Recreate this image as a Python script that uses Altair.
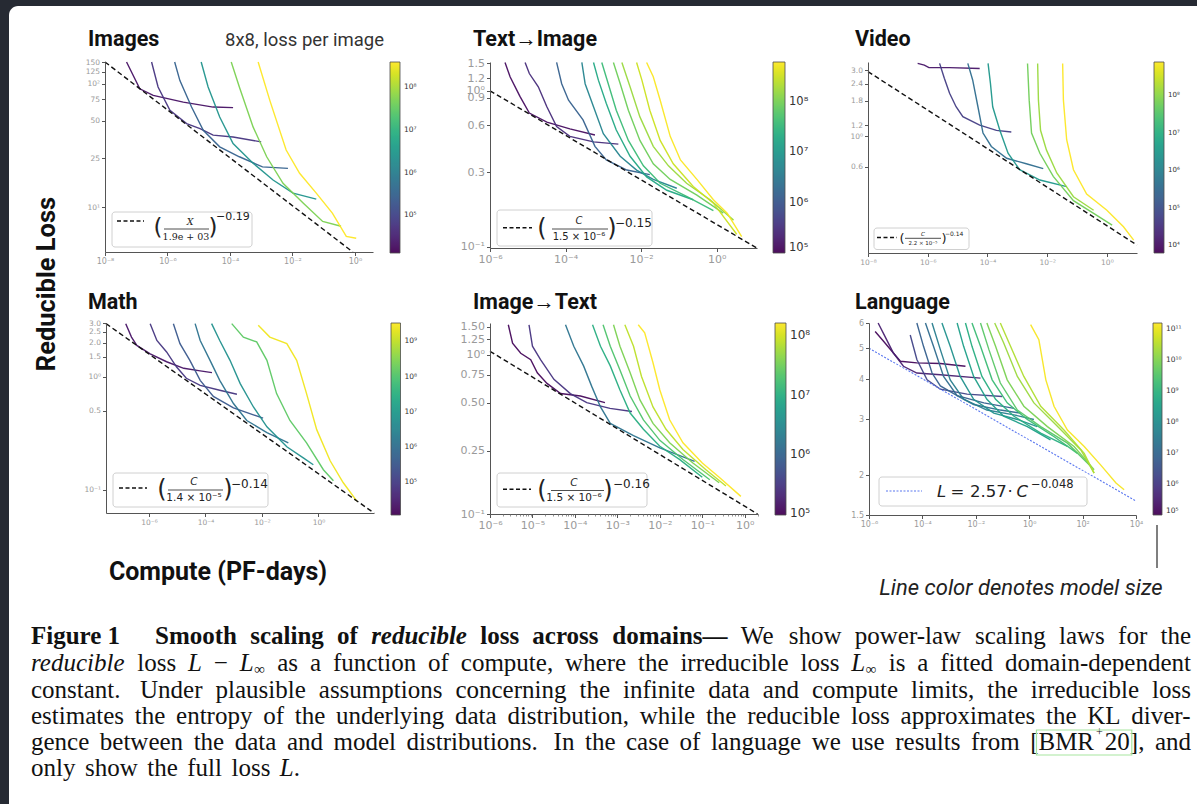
import math
import altair as alt
import pandas as pd

W, H = 1197, 804

# ---------------- data ----------------
# Images (8x8, loss per image)
images_sizes = [2e4, 6e4, 3e5, 2.5e6, 5e7, 3.9e8]
images_compute = [
    [4.9e-8, 1.3e-7, 3.5e-7, 3.2e-6, 2.9e-5, 1.26e-4],
    [3.1e-7, 5e-7, 1.2e-6, 4.1e-6, 1.1e-5, 2.9e-5, 1.26e-4, 1e-3],
    [1.7e-6, 2.5e-6, 5.9e-6, 1.4e-5, 4.7e-5, 2e-4, 1.1e-3, 7.2e-3],
    [1.2e-5, 2e-5, 4.7e-5, 1.26e-4, 5.5e-4, 2.4e-3, 1.05e-2, 5.8e-2],
    [1.1e-4, 2e-4, 5.5e-4, 1.5e-3, 5e-3, 2.2e-2, 9.3e-2, 0.36],
    [8e-4, 1.9e-3, 6.3e-3, 1.7e-2, 5.8e-2, 0.19, 0.53, 1.1],
]
images_loss = [
    [150, 91, 80.5, 71, 64.7, 64],
    [150, 94, 61, 47.5, 43.3, 38.3, 37, 33.8],
    [150, 106, 64.7, 42, 30.8, 25.6, 21.2, 20.6],
    [150, 94, 53.8, 32.8, 22.7, 16.6, 13, 11.6],
    [150, 94, 44.7, 25.6, 15.6, 10.8, 7.66, 7.0],
    [150, 73, 29, 18.8, 13, 8.95, 5.8, 5.6],
]
images_fit_compute = [1e-8, 0.86]
images_fit_loss = [150, 4.33]

# Text -> Image
textimg_sizes = [1.3e5, 2.9e5, 1.4e6, 5e6, 1.9e7, 3.8e7, 9e7, 1.7e8, 3.2e8, 6e8]
textimg_compute = [
    [2.5e-6, 3.4e-6, 6.2e-6, 1.1e-5, 3.2e-5, 1.3e-4, 6e-4],
    [8.5e-6, 1.1e-5, 1.9e-5, 3.2e-5, 5.8e-5, 1.3e-4, 5.5e-4, 2.5e-3],
    [5.8e-5, 7.9e-5, 1.2e-4, 2.9e-4, 6e-4, 1.2e-3, 4.2e-3, 1.7e-2],
    [2.7e-4, 3.3e-4, 5.5e-4, 1e-3, 2.8e-3, 7.6e-3, 2.1e-2, 8.8e-2],
    [5.5e-4, 7.4e-4, 1.2e-3, 2.2e-3, 5.1e-3, 1.4e-2, 4.8e-2, 0.24],
    [9.1e-4, 1.35e-3, 2.2e-3, 4.6e-3, 1.15e-2, 3.2e-2, 0.16, 0.82],
    [1.85e-3, 2.8e-3, 4.6e-3, 9.3e-3, 2.1e-2, 5.9e-2, 0.3, 1.5],
    [3.1e-3, 5.1e-3, 9.3e-3, 2.1e-2, 5.3e-2, 0.16, 0.67, 2.8],
    [7.6e-3, 1.05e-2, 1.7e-2, 3.2e-2, 7.1e-2, 0.24, 0.82, 3.4],
    [1.4e-2, 2.1e-2, 3.2e-2, 5.9e-2, 0.11, 0.3, 0.82, 1.9, 4.6],
]
textimg_loss = [
    [1.52, 1.23, 0.92, 0.72, 0.63, 0.57, 0.52],
    [1.52, 1.29, 1.06, 0.79, 0.59, 0.51, 0.47, 0.455],
    [1.52, 1.11, 0.87, 0.65, 0.44, 0.36, 0.31, 0.29],
    [1.52, 1.11, 0.79, 0.53, 0.38, 0.31, 0.27, 0.237],
    [1.52, 1.17, 0.83, 0.56, 0.38, 0.28, 0.23, 0.2],
    [1.52, 1.11, 0.75, 0.48, 0.33, 0.255, 0.21, 0.17],
    [1.52, 1.11, 0.75, 0.48, 0.34, 0.27, 0.214, 0.164],
    [1.52, 1.06, 0.68, 0.44, 0.33, 0.255, 0.2, 0.148],
    [1.52, 1.17, 0.75, 0.48, 0.34, 0.243, 0.19, 0.12],
    [1.52, 1.23, 0.87, 0.51, 0.36, 0.27, 0.2, 0.164, 0.116],
]
textimg_fit_compute = [1e-6, 11.5]
textimg_fit_loss = [1.0, 0.098]

# Video
video_sizes = [1.2e4, 5e4, 4e5, 3e6, 6e7, 1.3e8, 7.5e8]
video_compute = [
    [4.6e-7, 7.7e-7, 1.1e-6, 5.4e-6, 5.5e-5],
    [2.5e-6, 3.6e-6, 5.4e-6, 8.9e-6, 1.5e-5, 5.5e-5, 2e-4, 6.3e-4],
    [2.2e-5, 3.2e-5, 4.8e-5, 7.1e-5, 1.35e-4, 4.4e-4, 2e-3, 7.4e-3],
    [1.05e-4, 1.26e-4, 1.5e-4, 2.6e-4, 4.9e-4, 1.2e-3, 5.7e-3, 4.5e-2],
    [2.2e-3, 2.5e-3, 3e-3, 5.7e-3, 1.6e-2, 7.6e-2, 0.36, 1.5],
    [4.8e-3, 5.1e-3, 6e-3, 9.5e-3, 2.1e-2, 7.6e-2, 0.36],
    [3.3e-2, 3.5e-2, 4.5e-2, 7.6e-2, 0.21, 1.0, 3.6, 7.9],
]
video_loss = [
    [3.36, 3.27, 3.13, 3.13, 3.09],
    [3.36, 2.62, 2.04, 1.63, 1.38, 1.2, 1.1, 1.07],
    [3.36, 2.55, 1.63, 1.05, 0.84, 0.69, 0.63, 0.58],
    [3.36, 2.41, 1.63, 1.1, 0.75, 0.57, 0.48, 0.43],
    [3.36, 1.82, 1.05, 0.75, 0.51, 0.34, 0.275, 0.226],
    [3.36, 1.82, 1.1, 0.79, 0.54, 0.363, 0.29],
    [3.36, 1.82, 0.94, 0.57, 0.38, 0.29, 0.22, 0.176],
]
video_fit_compute = [1e-8, 10.2]
video_fit_loss = [2.93, 0.162]

# Math
math_sizes = [2.2e4, 8e4, 3.5e5, 1.3e6, 6e6, 1.4e8, 2.5e9]
math_compute = [
    [1.5e-7, 2.4e-7, 3.7e-7, 1.1e-6, 4.2e-6, 1.7e-5, 6.5e-5, 1.7e-4],
    [1.1e-6, 1.9e-6, 4.2e-6, 9.5e-6, 2.1e-5, 6.5e-5, 3.2e-4, 1.3e-3],
    [7.3e-6, 1.25e-5, 2.8e-5, 6.5e-5, 1.9e-4, 9.8e-4, 5e-3, 1.1e-2],
    [4.3e-5, 6.5e-5, 1.45e-4, 3.2e-4, 9.8e-4, 2.9e-3, 1.5e-2, 8.6e-2],
    [1.65e-4, 3.2e-4, 7.4e-4, 1.7e-3, 5e-3, 1.5e-2, 7.6e-2, 0.3, 0.66],
    [8.5e-4, 2.2e-3, 6.5e-3, 1.5e-2, 3.3e-2, 9.8e-2, 0.38, 1.5, 3.4],
    [7.4e-3, 1.9e-2, 7.6e-2, 0.17, 0.38, 0.87, 2.6, 7.6, 23],
]
math_loss = [
    [2.96, 2.25, 1.9, 1.6, 1.36, 1.19, 1.13, 1.09],
    [2.96, 2.1, 1.66, 1.22, 0.97, 0.84, 0.76, 0.7],
    [2.96, 1.97, 1.4, 0.93, 0.67, 0.53, 0.46, 0.43],
    [2.96, 2.1, 1.4, 0.93, 0.58, 0.41, 0.32, 0.26],
    [2.96, 2.1, 1.4, 0.87, 0.54, 0.36, 0.24, 0.19, 0.166],
    [2.96, 2.25, 2.04, 1.4, 0.71, 0.41, 0.26, 0.15, 0.12],
    [2.86, 2.25, 1.97, 1.4, 0.71, 0.34, 0.18, 0.115, 0.079],
]
math_fit_compute = [3e-8, 93]
math_fit_loss = [2.96, 0.062]

# Image -> Text
imgtext_sizes = [1.07e5, 2.8e5, 1.6e6, 9.4e6, 2e7, 3.6e7, 7.6e7, 1.6e8]
imgtext_compute = [
    [2.7e-6, 3.4e-6, 5.3e-6, 9.1e-6, 1.3e-5, 2.2e-5, 4.6e-5, 1.35e-4, 5.1e-4],
    [8.3e-6, 1e-5, 1.55e-5, 3.2e-5, 7.8e-5, 1.9e-4, 6.7e-4, 2.2e-3],
    [6e-5, 9.4e-5, 1.6e-4, 2.5e-4, 4e-4, 6.8e-4, 2.4e-3, 1e-2, 6.6e-2],
    [2.6e-4, 4e-4, 6.8e-4, 1.15e-3, 2e-3, 4.1e-3, 1e-2, 2.9e-2, 0.1],
    [4.6e-4, 6.8e-4, 1.15e-3, 2e-3, 4.1e-3, 1e-2, 3.5e-2, 0.15],
    [8.1e-4, 1.15e-3, 2e-3, 3.4e-3, 6.9e-3, 1.7e-2, 6e-2, 0.25],
    [1.5e-3, 2.4e-3, 3.7e-3, 6.9e-3, 1.4e-2, 3.5e-2, 0.12, 0.36],
    [3.1e-3, 4.4e-3, 6.9e-3, 1e-2, 1.7e-2, 3.5e-2, 0.1, 0.25, 0.81],
]
imgtext_loss = [
    [1.54, 1.18, 1.02, 0.93, 0.77, 0.66, 0.57, 0.55, 0.5],
    [1.54, 1.13, 0.93, 0.7, 0.57, 0.5, 0.46, 0.44],
    [1.54, 1.13, 0.85, 0.63, 0.47, 0.37, 0.31, 0.26, 0.214],
    [1.54, 1.13, 0.85, 0.6, 0.43, 0.34, 0.266, 0.22, 0.17],
    [1.54, 1.13, 0.8, 0.55, 0.39, 0.29, 0.22, 0.164],
    [1.54, 1.13, 0.77, 0.52, 0.37, 0.28, 0.209, 0.157],
    [1.54, 1.13, 0.73, 0.47, 0.34, 0.254, 0.19, 0.15],
    [1.54, 1.37, 0.89, 0.6, 0.39, 0.28, 0.209, 0.17, 0.129],
]
imgtext_fit_compute = [1e-6, 2.0]
imgtext_fit_loss = [1.05, 0.1]

# Language (full loss)
lang_sizes = [1.3e5, 3.2e5, 1.7e6, 7e6, 1.5e7, 4e7, 1.25e8, 3e8, 7e8,
              1.7e9, 3.9e9, 9e9, 1.9e10, 2.9e10, 1.4e11]
lang_compute = [
    [1.7e-6, 3.5e-6, 8.2e-6, 1.5e-5, 6.2e-5, 4.7e-4, 4.1e-3],
    [2.2e-6, 4e-6, 8.2e-6, 1.95e-5, 6.2e-5, 4.7e-4, 1.5e-2],
    [3.5e-5, 6.2e-5, 1.5e-4, 4.7e-4, 4.7e-3, 9.8e-2],
    [6.2e-5, 1.1e-4, 2.3e-4, 4.7e-4, 2e-3, 2e-2, 0.27],
    [1.3e-4, 2.6e-4, 6.2e-4, 2e-3, 8.3e-3, 8.3e-2, 0.48],
    [2.3e-4, 4.7e-4, 1.1e-3, 3.5e-3, 2.6e-2, 0.27, 1.5],
    [5.4e-4, 1.1e-3, 2.6e-3, 8.3e-3, 4.7e-2, 0.36, 2.0],
    [2e-3, 3.5e-3, 8.3e-3, 2.6e-2, 0.11, 0.85, 6.3],
    [4.1e-3, 7.2e-3, 1.7e-2, 5.5e-2, 0.27, 2.7, 27],
    [7.2e-3, 1.5e-2, 4.1e-2, 0.15, 0.85, 8.6, 64],
    [1.5e-2, 3.1e-2, 8.3e-2, 0.36, 2.7, 27, 205],
    [2.6e-2, 5.5e-2, 0.15, 0.63, 4.8, 48, 270],
    [5.1e-2, 0.11, 0.36, 1.5, 11.6, 86, 270],
    [8.3e-2, 0.2, 0.63, 2.7, 20, 115, 270],
    [1.13, 2.3, 4.2, 8.5, 27, 115, 480, 1780, 3600],
]
lang_loss = [
    [5.64, 5.26, 4.83, 4.55, 4.5, 4.48, 4.39],
    [6.0, 5.44, 4.83, 4.39, 4.18, 4.13, 4.03],
    [5.5, 4.61, 3.98, 3.72, 3.59, 3.53],
    [6.0, 5.07, 4.18, 3.81, 3.55, 3.37, 3.24],
    [6.0, 5.07, 4.08, 3.55, 3.33, 3.2, 3.13],
    [6.0, 4.95, 3.98, 3.46, 3.2, 3.09, 2.99],
    [6.0, 5.07, 4.08, 3.46, 3.13, 2.99, 2.84],
    [6.0, 5.07, 4.08, 3.46, 3.06, 2.84, 2.58],
    [6.0, 5.07, 4.08, 3.46, 3.06, 2.71, 2.46],
    [6.0, 5.07, 3.98, 3.37, 2.99, 2.64, 2.34],
    [6.0, 4.95, 3.89, 3.2, 2.84, 2.52, 2.13],
    [6.0, 5.07, 3.98, 3.29, 2.84, 2.46, 2.08],
    [6.0, 5.2, 4.08, 3.37, 2.84, 2.4, 2.03],
    [6.0, 5.07, 4.08, 3.29, 2.77, 2.34, 2.03],
    [5.93, 5.32, 3.98, 3.29, 2.77, 2.46, 2.15, 1.89, 1.8],
]
lang_fit_compute = [1e-6, 1e4]
lang_fit_loss = [5.0, 1.66]

# ---------------- helpers ----------------
SUP = str.maketrans("-0123456789", "\u207b\u2070\u00b9\u00b2\u00b3\u2074\u2075\u2076\u2077\u2078\u2079")


def pow10(v):
    return "10" + str(int(round(math.log10(v)))).translate(SUP)


def label_expr(values, labels):
    expr = "''"
    for v, lab in reversed(list(zip(values, labels))):
        expr = f"abs(datum.value / {v!r} - 1) < 1e-6 ? '{lab}' : ({expr})"
    return expr


ONE = alt.Data(values=[{}])


def txt(s, x, y, size, align="left", font="Roboto", weight="normal", style="normal",
        color="#111111", angle=0, baseline="middle"):
    kw = dict(text=s, align=align, baseline=baseline, font=font, fontSize=size,
              fontWeight=weight, fontStyle=style, color=color)
    if angle:
        kw["angle"] = angle
    return alt.Chart(ONE).mark_text(**kw).encode(x=alt.value(x), y=alt.value(y))


def rect(x1, y1, x2, y2, fill="white", stroke=None, sw=1.0, r=0, fill_opacity=1.0):
    kw = dict(fill=fill, fillOpacity=fill_opacity, cornerRadius=r)
    if stroke:
        kw["stroke"] = stroke
        kw["strokeWidth"] = sw
    return alt.Chart(ONE).mark_rect(**kw).encode(
        x=alt.value(x1), x2=alt.value(x2), y=alt.value(y1), y2=alt.value(y2))


def rule(x1, y1, x2, y2, color="#000000", sw=1.0, dash=None):
    kw = dict(color=color, strokeWidth=sw)
    if dash:
        kw["strokeDash"] = dash
    return alt.Chart(ONE).mark_rule(**kw).encode(
        x=alt.value(x1), x2=alt.value(x2), y=alt.value(y1), y2=alt.value(y2))


AX = dict(title=None, grid=False, domainColor="#555555", domainWidth=1, tickColor="#555555",
          tickSize=3.5, tickWidth=1, labelColor="#9a9a9a", labelFont="DejaVu Sans",
          labelFlush=False, labelOverlap=False, labelPadding=2, zindex=1)

panels = [
    dict(key="images", title="Images", txy=(88, 40),
         xrng=[105, 373], yrng=[252, 62], xdom=[1e-8, 3.8], ydom=[4.33, 150],
         xt=[1e-8, 1e-6, 1e-4, 1e-2, 1],
         yt=[10, 25, 50, 75, 100, 125, 150], ytl=["10\u00b9", "25", "50", "75", "10\u00b2", "125", "150"],
         xfs=8, yfs=7.5, cdom=[1.3e4, 3.9e8], cvals=[1e5, 1e6, 1e7, 1e8],
         cb=(390, 62, 191, 10), cfs=7.5),
    dict(key="textimg", title="Text\u2192Image", txy=(473, 40),
         xrng=[490, 757], yrng=[248, 62], xdom=[1e-6, 11.7], ydom=[0.098, 1.53],
         xt=[1e-6, 1e-4, 1e-2, 1],
         yt=[0.1, 0.3, 0.6, 0.9, 1.0, 1.2, 1.5], ytl=["10\u207b\u00b9", "0.3", "0.6", "0.9", "10\u2070", "1.2", "1.5"],
         xfs=11, yfs=11, cdom=[1e5, 6.3e8], cvals=[1e5, 1e6, 1e7, 1e8],
         cb=(773, 62, 191, 12), cfs=11.5),
    dict(key="video", title="Video", txy=(855, 40),
         xrng=[868, 1137], yrng=[253, 62], xdom=[1e-8, 10.2], ydom=[0.142, 3.44],
         xt=[1e-8, 1e-6, 1e-4, 1e-2, 1],
         yt=[0.6, 1.0, 1.2, 1.8, 2.4, 3.0], ytl=["0.6", "10\u2070", "1.2", "1.8", "2.4", "3.0"],
         xfs=7.5, yfs=7.5, cdom=[6.3e3, 7.6e8], cvals=[1e4, 1e5, 1e6, 1e7, 1e8],
         cb=(1154, 62, 191, 10), cfs=7),
    dict(key="math", title="Math", txy=(88, 303),
         xrng=[106, 374], yrng=[513, 323], xdom=[3e-8, 93], ydom=[0.062, 3.0],
         xt=[1e-6, 1e-4, 1e-2, 1],
         yt=[0.1, 0.5, 1.0, 1.5, 2.0, 2.5, 3.0], ytl=["10\u207b\u00b9", "0.5", "10\u2070", "1.5", "2.0", "2.5", "3.0"],
         xfs=7.5, yfs=7.5, cdom=[1.2e4, 3.3e9], cvals=[1e5, 1e6, 1e7, 1e8, 1e9],
         cb=(391, 323, 192, 9.5), cfs=7.5),
    dict(key="imgtext", title="Image\u2192Text", txy=(473, 303),
         xrng=[490, 758], yrng=[514, 323], xdom=[1e-6, 2.05], ydom=[0.1, 1.58],
         xt=[1e-6, 1e-5, 1e-4, 1e-3, 1e-2, 1e-1, 1], minor=True,
         yt=[0.1, 0.25, 0.5, 0.75, 1.0, 1.25, 1.5], ytl=["10\u207b\u00b9", "0.25", "0.50", "0.75", "10\u2070", "1.25", "1.50"],
         xfs=11, yfs=11, cdom=[9.4e4, 1.6e8], cvals=[1e5, 1e6, 1e7, 1e8],
         cb=(775, 323, 192, 11), cfs=12),
    dict(key="lang", title="Language", txy=(855, 303),
         xrng=[869, 1136], yrng=[515, 323], xdom=[1e-6, 1e4], ydom=[1.5, 6],
         xt=[1e-6, 1e-4, 1e-2, 1, 1e2, 1e4],
         yt=[1.5, 2, 3, 4, 5, 6], ytl=["1.5", "2", "3", "4", "5", "6"],
         xfs=8, yfs=8, cdom=[1e5, 1.6e11], cvals=[1e5, 1e6, 1e7, 1e8, 1e9, 1e10, 1e11],
         cb=(1153, 323, 192, 9), cfs=7.5),
]

DATA = {
    "images": (images_sizes, images_compute, images_loss, images_fit_compute, images_fit_loss),
    "textimg": (textimg_sizes, textimg_compute, textimg_loss, textimg_fit_compute, textimg_fit_loss),
    "video": (video_sizes, video_compute, video_loss, video_fit_compute, video_fit_loss),
    "math": (math_sizes, math_compute, math_loss, math_fit_compute, math_fit_loss),
    "imgtext": (imgtext_sizes, imgtext_compute, imgtext_loss, imgtext_fit_compute, imgtext_fit_loss),
    "lang": (lang_sizes, lang_compute, lang_loss, lang_fit_compute, lang_fit_loss),
}


def panel_layers(p):
    sizes, compute, loss, fit_c, fit_l = DATA[p["key"]]
    rows = []
    for i, (s, cs, ls) in enumerate(zip(sizes, compute, loss)):
        for c, l in zip(cs, ls):
            rows.append({"series": i, "size": s, "compute": c, "loss": l})
    df = pd.DataFrame(rows)
    xs = alt.Scale(type="log", domain=p["xdom"], range=p["xrng"])
    ys = alt.Scale(type="log", domain=p["ydom"], range=p["yrng"])
    xaxis = alt.Axis(orient="bottom", offset=p["yrng"][0] - H, values=p["xt"],
                     labelExpr=label_expr(p["xt"], [pow10(v) for v in p["xt"]]),
                     labelFontSize=p["xfs"], **AX)
    yaxis = alt.Axis(orient="left", offset=-p["xrng"][0], values=p["yt"],
                     labelExpr=label_expr(p["yt"], p["ytl"]),
                     labelFontSize=p["yfs"], **AX)
    cbx, cby, cblen, cbth = p["cb"]
    leg = alt.Legend(orient="none", legendX=cbx, legendY=cby, direction="vertical",
                     gradientLength=cblen, gradientThickness=cbth, title=None,
                     values=p["cvals"], labelExpr=label_expr(p["cvals"], [pow10(v) for v in p["cvals"]]),
                     labelFontSize=p["cfs"], labelColor="#333333", labelFont="DejaVu Sans",
                     gradientStrokeColor="#444444", gradientStrokeWidth=0.8,
                     labelOverlap=False, padding=0, labelOffset=4)
    lines = alt.Chart(df).mark_line(strokeWidth=1.4, opacity=0.95).encode(
        x=alt.X("compute:Q", scale=xs, axis=xaxis),
        y=alt.Y("loss:Q", scale=ys, axis=yaxis),
        color=alt.Color("size:Q", scale=alt.Scale(type="log", scheme="viridis", domain=p["cdom"]),
                        legend=leg),
        detail="series:N",
    )
    if p["key"] == "lang":
        fit_mark = dict(color="#5b78f0", strokeDash=[2, 1.5], strokeWidth=1.1)
    else:
        fit_mark = dict(color="#111111", strokeDash=[5, 3], strokeWidth=1.4)
    if p.get("minor"):
        lo, hi = p["xdom"]
        minor_vals = [k * 10.0 ** e for e in range(int(math.floor(math.log10(lo))), int(math.ceil(math.log10(hi))) + 1)
                      for k in range(2, 10) if lo <= k * 10.0 ** e <= hi]
        fit_xaxis = alt.Axis(orient="bottom", offset=p["yrng"][0] - H, values=minor_vals, labels=False,
                             domain=False, grid=False, title=None, tickSize=2, tickWidth=0.8,
                             tickColor="#777777", zindex=1)
    else:
        fit_xaxis = None
    fit = alt.Chart(pd.DataFrame({"compute": fit_c, "loss": fit_l})).mark_line(**fit_mark).encode(
        x=alt.X("compute:Q", scale=xs, axis=fit_xaxis),
        y=alt.Y("loss:Q", scale=ys, axis=None),
    )
    tx, ty = p["txy"]
    return [lines, fit, txt(p["title"], tx, ty, 21.5, weight="bold", color="#111111")]


def fit_legend(box, dash, lp, rp, pyc, pfs, num, numxy, bar, den, denxy, ffs, exp, expxy, efs,
               font="DejaVu Sans"):
    L = [rect(*box, fill="white", stroke="#d0d0d0", sw=1, r=3, fill_opacity=0.9),
         rule(dash[0], dash[2], dash[1], dash[2], color="#111111", sw=1.4, dash=[4, 2.5]),
         txt("(", lp, pyc, pfs, align="center", font="DejaVu Sans", weight="normal", color="#222222"),
         txt(")", rp, pyc, pfs, align="center", font="DejaVu Sans", weight="normal", color="#222222"),
         txt(num, numxy[0], numxy[1], ffs, align="center", font=font, style="italic", color="#222222"),
         rule(bar[0], bar[2], bar[1], bar[2], color="#222222", sw=0.8),
         txt(den, denxy[0], denxy[1], ffs, align="center", font=font, color="#222222"),
         txt(exp, expxy[0], expxy[1], efs, align="left", font="DejaVu Sans", color="#222222")]
    return L


layers = []
# white card over the dark frame
layers.append(rect(9, 6, W + 20, H + 20, fill="white", r=9))

for p in panels:
    layers += panel_layers(p)

# fit legends
layers += fit_legend((112, 212, 252, 247), (117, 144, 221), 158, 213, 228, 23, "X", (190, 221.5),
                     (164, 209, 229), "1.9e + 03", (186, 236.5), 9.5, "\u22120.19", (216, 216.5), 11,
                     font="DejaVu Serif")
layers += fit_legend((497, 210, 652, 246), (503, 532, 227.7), 542, 612, 229, 24, "C", (579, 221),
                     (552, 608, 229), "1.5 \u00d7 10\u207b\u2076", (579, 237), 10, "\u22120.15", (615, 222.5), 12)
layers += fit_legend((874, 228, 969, 249.5), (877, 897, 237.5), 902, 944, 238.5, 13, "C", (923, 234.3),
                     (905, 941, 238.3), "2.2 \u00d7 10\u207b\u2075", (923, 242.5), 5.5, "\u22120.14", (945, 234), 6)
layers += fit_legend((113, 473, 268, 507), (119, 147, 488), 162, 228, 490, 24, "C", (194, 482),
                     (168, 223, 490), "1.4 \u00d7 10\u207b\u2075", (194, 497.5), 10.5, "\u22120.14", (231, 483.5), 12)
layers += fit_legend((497, 473, 647, 507), (503, 531, 489.3), 542, 608, 490.7, 24, "C", (574, 482.5),
                     (551, 604, 490.5), "1.5 \u00d7 10\u207b\u2076", (574, 497.5), 10.5, "\u22120.16", (613, 484), 12)
# language legend
layers += [
    rect(879, 477, 1087, 506, fill="white", stroke="#d0d0d0", sw=1, r=3, fill_opacity=0.9),
    rule(886, 491, 922, 491, color="#5b78f0", sw=1.1, dash=[2, 1.5]),
    txt("L", 937, 492, 16.5, font="DejaVu Sans", style="italic", color="#222222"),
    txt("=", 957.5, 492, 16.5, align="center", font="DejaVu Sans", color="#222222"),
    txt("2.57", 970, 492, 16.5, font="DejaVu Sans", color="#222222"),
    txt("\u00b7", 1010, 492, 16.5, align="center", font="DejaVu Sans", color="#222222"),
    txt("C", 1016.5, 492, 16.5, font="DejaVu Sans", style="italic", color="#222222"),
    txt("\u22120.048", 1031, 484.5, 11.5, font="DejaVu Sans", color="#222222"),
]

# figure-level annotations
layers += [
    txt("8x8, loss per image", 225, 40, 18.5, color="#333333"),
    txt("Reducible Loss", 47, 284, 25.5, align="center", weight="bold", angle=270),
    txt("Compute (PF-days)", 218, 572, 25, align="center", weight="bold"),
    rule(1157, 525, 1157, 568, color="#555555", sw=1.5),
    txt("Line color denotes model size", 1021, 588, 22, align="center", style="italic", color="#222222"),
]

# ---------------- caption (justified with Times metrics) ----------------
SERIF = "Liberation Serif"
CF = 25
TR = dict(zip("abcdefghijklmnopqrstuvwxyz",
              [444, 500, 444, 500, 444, 333, 500, 500, 278, 278, 500, 278, 778, 500, 500, 500, 500,
               333, 389, 278, 500, 500, 722, 500, 500, 444]))
TR.update({"B": 667, "F": 556, "I": 333, "K": 722, "L": 611, "M": 889, "R": 667, "S": 556,
           "U": 722, "W": 944, ",": 250, ".": 250, "-": 333, "\u2014": 1000, "[": 333, "]": 333,
           "+": 564, "\u2212": 564, "\u221e": 713, " ": 250})
TB = dict(TR)
TB.update({"a": 500, "b": 556, "d": 556, "h": 556, "m": 833, "n": 556, "r": 444, "t": 333,
           "u": 556, "F": 611})
TI = dict(TR)
TI.update({"a": 500, "r": 389, "L": 556})
TBI = dict(TR)
TBI.update({"r": 389, "u": 556})
# style: (width table, weight, font style, size, vertical shift, side padding)
STY = {"r": (TR, "normal", "normal", CF, 0, 0), "b": (TB, "bold", "normal", CF, 0, 0),
       "i": (TI, "normal", "italic", CF, 0, 0), "bi": (TBI, "bold", "italic", CF, 0, 0),
       "sub": (TR, "normal", "normal", 15, 6, 0.5), "sup": (TR, "normal", "normal", 12, -10, 2.0)}


def pw(t, s):
    tbl, _, _, size, _, pad = STY[s]
    return sum(tbl.get(ch, 500) for ch in t) * size / 1000.0 + 2 * pad


def set_line(words, x0, x1, y, out, justify=True):
    """words: list of word groups, each a list of (text, style) pieces"""
    widths = [sum(pw(t, s) for t, s in w) for w in words]
    n = len(words) - 1
    weights = [1.5 if words[i][-1][0].endswith(".") else 1.0 for i in range(n)]
    if justify and n > 0:
        gap = (x1 - x0 - sum(widths)) / sum(weights)
    else:
        gap = 0.25 * CF
    pos = []
    x = x0
    for i, w in enumerate(words):
        px = x
        for t, s in w:
            _, weight, fstyle, size, dy, pad = STY[s]
            out.append(txt(t, px + pad, y + dy, size, font=SERIF, weight=weight, style=fstyle,
                           color="#111111"))
            pos.append((t, px, px + pw(t, s)))
            px += pw(t, s)
        if i < n:
            x += widths[i] + gap * weights[i]
    return pos


def simple(text, style="r"):
    return [[(w, style)] for w in text.split()]


y1, y2, y3, y4, y5, y6 = 636, 663, 689.5, 716, 742, 768
cap_layers = []
set_line([[("Figure 1", "b")]], 31, 31, y1, cap_layers, justify=False)
set_line(simple("Smooth scaling of", "b") + [[("reducible", "bi")]] + simple("loss across domains\u2014", "b")
         + simple("We show power-law scaling laws for the"), 155, 1191, y1, cap_layers)
set_line([[("reducible", "i")]] + simple("loss") + [[("L", "i")], [("\u2212", "r")], [("L", "i"), ("\u221e", "sub")]]
         + simple("as a function of compute, where the irreducible loss")
         + [[("L", "i"), ("\u221e", "sub")]] + simple("is a fitted domain-dependent"), 31, 1191, y2, cap_layers)
set_line(simple("constant. Under plausible assumptions concerning the infinite data and compute limits, "
                "the irreducible loss"), 31, 1191, y3, cap_layers)
set_line(simple("estimates the entropy of the underlying data distribution, while the reducible loss "
                "approximates the KL diver-"), 31, 1191, y4, cap_layers)
pos5 = set_line(simple("gence between the data and model distributions. In the case of language we use results from")
                + [[("[", "r"), ("BMR", "r"), ("+", "sup"), ("20", "r"), ("],", "r")]] + simple("and"),
                31, 1191, y5, cap_layers)
set_line(simple("only show the full loss") + [[("L", "i"), (".", "r")]], 31, 300, y6, cap_layers)
bmr = [p for p in pos5 if p[0] == "BMR"][0]
twenty = [p for p in pos5 if p[0] == "20"][0]
layers += cap_layers
layers.append(rect(bmr[1] - 2, 730, twenty[2] + 2, 755, fill="white", stroke="#a8e6a0", sw=1.2,
                   fill_opacity=0))

chart = alt.layer(*layers).resolve_scale(
    x="independent", y="independent", color="independent"
).resolve_axis(
    x="independent", y="independent"
).resolve_legend(
    color="independent"
).properties(
    width=W, height=H, autosize=alt.AutoSizeParams(type="none"), padding=0,
    background="#262a33",
).configure_view(strokeWidth=0)

chart.save("out.html", embed_options={"renderer": "svg", "actions": False})
